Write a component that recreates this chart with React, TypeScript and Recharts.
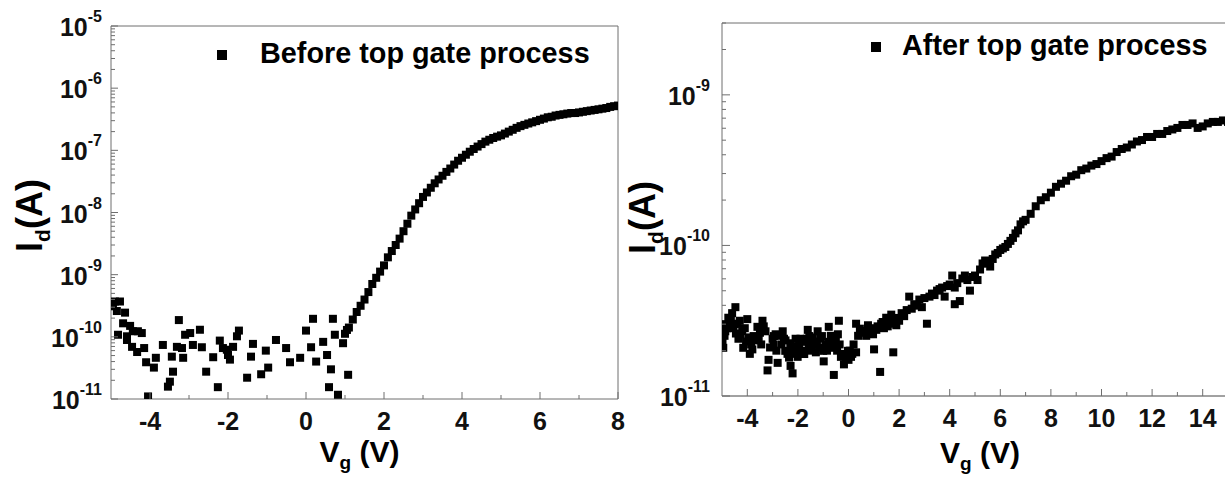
import React from "react";
import { ScatterChart, Scatter, XAxis, YAxis, ReferenceLine, Legend, Label } from "recharts";

const FONT = '"Liberation Sans", Arial, Helvetica, sans-serif';
const AXIS = "#6e6e6e";

// ---- before top gate: off-state noise
const beforeOffVg = [
  -4.95, -4.9, -4.85, -4.82, -4.77, -4.69, -4.64, -4.59, -4.59, -4.51, -4.46, -4.44, -4.33, -4.31, -4.21, -4.15,
  -4.1, -4.05, -3.9, -3.85, -3.67, -3.54, -3.49, -3.44, -3.41, -3.31, -3.26, -3.18, -3.15, -3.1, -2.97, -2.9,
  -2.72, -2.67, -2.56, -2.38, -2.26, -2.21, -2.13, -2.03, -2.0, -1.95, -1.87, -1.77, -1.72, -1.51, -1.41, -1.36,
  -1.15, -1.03, -0.97, -0.77, -0.51, -0.41, -0.15, 0.0, 0.13, 0.18, 0.26, 0.44, 0.54, 0.59, 0.64, 0.69, 0.74,
  0.82, 0.95, 1.05, 1.08,
];
const beforeOffId = [
  3.1e-10, 3.7e-10, 2.6e-10, 1.08e-10, 3.7e-10, 1.65e-10, 2.45e-10, 1.02e-10, 8.9e-11, 1.5e-10, 6.9e-11, 1.23e-10, 5.7e-11, 1.23e-10, 1.15e-10, 6.6e-11,
  3.9e-11, 1.1e-11, 3.2e-11, 4.6e-11, 7.4e-11, 1.58e-11, 1.9e-11, 4.8e-11, 2.75e-11, 6.9e-11, 1.86e-10, 6.6e-11, 4.6e-11, 1.08e-10, 1.15e-10, 7.4e-11,
  1.3e-10, 6.8e-11, 2.75e-11, 4.7e-11, 1.55e-11, 8.7e-11, 6.6e-11, 6.2e-11, 5.1e-11, 4.3e-11, 6.9e-11, 1.02e-10, 1.26e-10, 2.2e-11, 4.8e-11, 7.7e-11,
  2.5e-11, 6.0e-11, 3.2e-11, 8.9e-11, 6.6e-11, 3.9e-11, 4.6e-11, 1.26e-10, 6.8e-11, 1.95e-10, 4.0e-11, 8.3e-11, 5.1e-11, 1.55e-11, 3.0e-11, 1.95e-10, 1.08e-10,
  1.17e-11, 7.9e-11, 1.29e-10, 2.45e-11,
];

// ---- before top gate: turn-on sweep
const beforeOnVg = [
  1.0, 1.1, 1.2, 1.3, 1.4, 1.5, 1.6, 1.7, 1.8, 1.9, 2.0, 2.1, 2.2, 2.3, 2.4, 2.5, 2.6, 2.7, 2.8, 2.9,
  3.0, 3.1, 3.2, 3.3, 3.4, 3.5, 3.6, 3.7, 3.8, 3.9, 4.0, 4.1, 4.2, 4.3, 4.4, 4.5, 4.6, 4.7, 4.8, 4.9,
  5.0, 5.1, 5.2, 5.3, 5.4, 5.5, 5.6, 5.7, 5.8, 5.9, 6.0, 6.1, 6.2, 6.3, 6.4, 6.5, 6.6, 6.7, 6.8, 6.9,
  7.0, 7.1, 7.2, 7.3, 7.4, 7.5, 7.6, 7.7, 7.8, 7.9, 8.0,
];
const beforeOnId = [
  1.12e-10, 1.41e-10, 1.9e-10, 2.51e-10, 3.16e-10, 3.98e-10, 5.25e-10, 7.08e-10, 8.91e-10, 1.12e-9,
  1.41e-9, 1.9e-9, 2.4e-9, 3.0e-9, 3.8e-9, 5.0e-9, 6.6e-9, 8.9e-9, 1.12e-8, 1.41e-8,
  1.78e-8, 2.1e-8, 2.5e-8, 2.95e-8, 3.4e-8, 3.9e-8, 4.5e-8, 5.1e-8, 5.9e-8, 6.8e-8,
  7.6e-8, 8.5e-8, 9.5e-8, 1.05e-7, 1.15e-7, 1.26e-7, 1.38e-7, 1.48e-7, 1.58e-7, 1.66e-7,
  1.74e-7, 1.86e-7, 2.0e-7, 2.14e-7, 2.3e-7, 2.45e-7, 2.57e-7, 2.7e-7, 2.82e-7, 2.95e-7,
  3.1e-7, 3.24e-7, 3.4e-7, 3.47e-7, 3.63e-7, 3.72e-7, 3.8e-7, 3.9e-7, 3.98e-7, 3.98e-7,
  4.07e-7, 4.17e-7, 4.27e-7, 4.37e-7, 4.47e-7, 4.57e-7, 4.68e-7, 4.79e-7, 5.0e-7, 5.13e-7, 5.25e-7,
];

// ---- after top gate: off-state noise (two overlapping scans)
const afterOffVg = [
  -4.95, -4.9, -4.87, -4.8, -4.75, -4.6, -4.55, -4.47, -4.4, -4.3, -4.28, -4.16, -4.1, -4.0, -3.96, -3.9,
  -3.8, -3.68, -3.6, -3.5, -3.4, -3.28, -3.2, -3.16, -3.0, -2.96, -2.88, -2.8, -2.7, -2.6, -2.5, -2.49,
  -2.41, -2.3, -2.29, -2.21, -2.21, -2.15, -2.09, -2.01, -1.95, -1.89, -1.8, -1.77, -1.65, -1.61, -1.57, -1.5,
  -1.41, -1.35, -1.29, -1.22, -1.1, -1.0, -0.98, -0.9, -0.8, -0.78, -0.7, -0.58, -0.58, -0.5, -0.42, -0.38,
  -0.3, -0.2, -0.18, -0.02, 0.0, 0.1, 0.15, 0.3, 0.3, 0.38, 0.5, 0.58, 0.7, 0.77, 0.85, 0.97,
  1.01, 1.1, 1.25, 1.29, 1.4, 1.49, 1.6, 1.69, 1.77, 1.8, 1.89,
];
const afterOffId = [
  2.09e-11, 2.51e-11, 2.69e-11, 2.82e-11, 3.31e-11, 3.55e-11, 2.82e-11, 3.89e-11, 3.02e-11, 3.16e-11, 2.57e-11, 2.09e-11, 2.82e-11, 3.24e-11, 2.45e-11, 1.905e-11,
  2.04e-11, 2.34e-11, 2.88e-11, 2.63e-11, 3.16e-11, 2.69e-11, 1.479e-11, 1.738e-11, 2.4e-11, 2.19e-11, 2.57e-11, 1.66e-11, 2.51e-11, 2.69e-11, 1.995e-11, 2.34e-11,
  1.905e-11, 2.24e-11, 1.585e-11, 2.14e-11, 1.413e-11, 1.905e-11, 2.4e-11, 1.82e-11, 2.19e-11, 1.995e-11, 1.995e-11, 2.29e-11, 2.4e-11, 2.75e-11, 2.09e-11, 2.29e-11,
  2.45e-11, 2.19e-11, 1.95e-11, 2.69e-11, 2.4e-11, 1.995e-11, 1.698e-11, 2.19e-11, 2.29e-11, 2.88e-11, 2.51e-11, 1.38e-11, 2.09e-11, 2.4e-11, 2.57e-11, 3.16e-11,
  1.82e-11, 1.905e-11, 1.622e-11, 1.995e-11, 1.738e-11, 1.82e-11, 1.905e-11, 1.95e-11, 3.02e-11, 2.51e-11, 2.63e-11, 2.69e-11, 2.51e-11, 2.95e-11, 2.82e-11, 2.57e-11,
  2.04e-11, 2.75e-11, 1.445e-11, 3.02e-11, 2.82e-11, 3.31e-11, 3.16e-11, 3.47e-11, 1.95e-11, 3.02e-11, 2.95e-11,
];
const afterOff2Vg = [
  -4.98, -4.85, -4.7, -4.65, -4.5, -4.45, -4.35, -4.2, -4.05, -3.85, -3.75, -3.55, -3.45, -3.35, -3.1,
  -2.95, -2.85, -2.65, -2.55, -2.35, -2.25, -2.05, -1.9, -1.75, -1.55, -1.45, -1.25, -1.15, -1.05, -0.85,
  -0.65, -0.45, -0.35, -0.1, 0.05, 0.2, 0.45, 0.65, 0.9, 1.15, 1.35, 1.55, 1.75, 1.95,
];
const afterOff2Id = [
  2.3e-11, 3.0e-11, 2.9e-11, 3.2e-11, 3.0e-11, 2.6e-11, 2.4e-11, 2.7e-11, 2.3e-11, 2.2e-11, 2.5e-11, 2.4e-11, 2.2e-11, 2.9e-11, 2.1e-11,
  2.5e-11, 2.0e-11, 2.2e-11, 2.4e-11, 1.8e-11, 2.0e-11, 2.1e-11, 2.4e-11, 1.9e-11, 2.5e-11, 2.0e-11, 2.3e-11, 2.1e-11, 2.5e-11, 2.0e-11,
  2.2e-11, 2.0e-11, 2.2e-11, 1.8e-11, 2.0e-11, 2.2e-11, 2.8e-11, 2.7e-11, 2.6e-11, 2.9e-11, 3.1e-11, 2.9e-11, 3.2e-11, 3.3e-11,
];

// ---- after top gate: turn-on sweep
const afterOnVg = [
  2.0, 2.1, 2.2, 2.3, 2.4, 2.5, 2.6, 2.7, 2.8, 2.9, 3.0, 3.1, 3.2, 3.3, 3.4, 3.5, 3.6, 3.7, 3.8, 3.9,
  4.0, 4.1, 4.2, 4.2, 4.3, 4.4, 4.5, 4.6, 4.7, 4.8, 4.9, 5.0, 5.1, 5.2, 5.3, 5.4, 5.5, 5.6, 5.7, 5.8,
  5.9, 6.0, 6.1, 6.2, 6.3, 6.4, 6.5, 6.6, 6.7, 6.8, 6.9, 7.0, 7.2, 7.4, 7.6, 7.8, 8.0, 8.2, 8.4, 8.6,
  8.8, 9.0, 9.2, 9.4, 9.6, 9.8, 10.0, 10.2, 10.4, 10.6, 10.8, 11.0, 11.2, 11.4, 11.6, 11.8, 12.0, 12.2, 12.4, 12.6,
  12.8, 13.0, 13.2, 13.4, 13.6, 13.8, 14.0, 14.2, 14.4, 14.6, 14.8, 15.0,
];
const afterOnId = [
  3.16e-11, 3.55e-11, 3.39e-11, 3.72e-11, 4.57e-11, 3.8e-11, 4.07e-11, 3.98e-11, 4.37e-11, 3.89e-11,
  4.47e-11, 3.02e-11, 4.57e-11, 4.79e-11, 4.68e-11, 5.01e-11, 5.13e-11, 5.25e-11, 4.57e-11, 5.37e-11,
  5.5e-11, 6.31e-11, 5.25e-11, 4.07e-11, 5.62e-11, 4.27e-11, 6.03e-11, 6.31e-11, 5.89e-11, 5.01e-11,
  6.17e-11, 6.31e-11, 5.89e-11, 6.92e-11, 7.59e-11, 7.94e-11, 7.59e-11, 7.24e-11, 8.13e-11, 8.71e-11,
  8.91e-11, 9.33e-11, 9.55e-11, 9.77e-11, 1.023e-10, 1.072e-10, 1.122e-10, 1.202e-10, 1.259e-10, 1.38e-10,
  1.445e-10, 1.479e-10, 1.622e-10, 1.82e-10, 1.995e-10, 2.09e-10, 2.24e-10, 2.45e-10, 2.57e-10, 2.69e-10,
  2.88e-10, 2.95e-10, 3.16e-10, 3.24e-10, 3.39e-10, 3.47e-10, 3.63e-10, 3.8e-10, 3.89e-10, 4.17e-10,
  4.37e-10, 4.47e-10, 4.68e-10, 4.9e-10, 5.01e-10, 5.25e-10, 5.25e-10, 5.5e-10, 5.5e-10, 5.75e-10,
  5.89e-10, 6.03e-10, 6.31e-10, 6.31e-10, 6.46e-10, 6.03e-10, 6.17e-10, 6.46e-10, 6.61e-10, 6.61e-10, 6.76e-10, 6.61e-10,
];

// axis ticks
const beforeDecades = [-11, -10, -9, -8, -7, -6];
const afterDecades = [-11, -10, -9];
const mantissas = [1, 2, 3, 4, 5, 6, 7, 8, 9];
const beforeXTicks = [-4, -3, -2, -1, 0, 1, 2, 3, 4, 5, 6, 7, 8];
const afterXTicks = [-4, -3, -2, -1, 0, 1, 2, 3, 4, 5, 6, 7, 8, 9, 10, 11, 12, 13, 14];

function logTicks(decades: number[], max: number) {
  const out: number[] = [];
  decades.forEach((d) => mantissas.forEach((m) => {
    const v = m * Math.pow(10, d);
    if (v <= max * 1.0001) out.push(v);
  }));
  if (!out.some((v) => Math.abs(v / max - 1) < 1e-6)) out.push(max);
  return out;
}

function pairs(vg: number[], id: number[]) {
  return vg.map((v, i) => ({ vg: v, id: id[i] }));
}

const beforeData = [...pairs(beforeOffVg, beforeOffId), ...pairs(beforeOnVg, beforeOnId)];
const afterData = [
  ...pairs(afterOffVg, afterOffId),
  ...pairs(afterOff2Vg, afterOff2Id),
  ...pairs(afterOnVg, afterOnId),
];

const SquareDot = (p: any) => (
  <rect x={p.cx - 4} y={p.cy - 4} width={8} height={8} fill="#000" />
);

function YTick(props: any) {
  const { x, y, payload, gap, majorLen } = props;
  const v = Number(payload.value);
  const lg = Math.log10(v);
  const exp = Math.round(lg);
  const major = Math.abs(lg - exp) < 1e-6;
  return (
    <g>
      <line x1={x} x2={x + (major ? majorLen : 4)} y1={y} y2={y} stroke={AXIS} strokeWidth={1} />
      {major && (
        <text x={x - gap} y={y + 10} textAnchor="end" fontFamily={FONT} fontWeight="bold" fontSize={25} fill="#111">
          10<tspan dy={-14} fontSize={16}>{String(exp)}</tspan>
        </text>
      )}
    </g>
  );
}

function XTick(props: any) {
  const { x, y, payload } = props;
  const v = Number(payload.value);
  const major = v % 2 === 0;
  return (
    <g>
      <line x1={x} x2={x} y1={y} y2={y - (major ? 7 : 4)} stroke={AXIS} strokeWidth={1} />
      {major && (
        <text x={x} y={y + 31} textAnchor="middle" fontFamily={FONT} fontWeight="bold" fontSize={25} fill="#111">
          {String(v)}
        </text>
      )}
    </g>
  );
}

function YTitle({ viewBox, dx, dy }: any) {
  const cx = viewBox.x + viewBox.width + dx;
  const cy = viewBox.y + viewBox.height / 2 + dy;
  return (
    <text x={cx} y={cy} transform={`rotate(-90 ${cx} ${cy})`} textAnchor="middle" fontFamily={FONT} fontWeight="bold" fontSize={36} fill="#000">
      I<tspan dy={8} fontSize={21}>d</tspan><tspan dy={-8}>(A)</tspan>
    </text>
  );
}

function XTitle({ viewBox, dx, dy }: any) {
  const cx = viewBox.x + viewBox.width / 2 + dx;
  const cy = viewBox.y + dy;
  return (
    <text x={cx} y={cy} textAnchor="middle" fontFamily={FONT} fontWeight="bold" fontSize={30} fill="#000">
      V<tspan dy={7} fontSize={19}>g</tspan><tspan dy={-7}>{" (V)"}</tspan>
    </text>
  );
}

function LegendBox({ label, gap }: { label: string; gap: number }) {
  return (
    <div style={{ display: "flex", alignItems: "center", fontFamily: FONT, fontWeight: 700, fontSize: 28.8, lineHeight: "28px", color: "#000", whiteSpace: "nowrap" }}>
      <span style={{ display: "inline-block", width: 10, height: 10, background: "#000", marginRight: gap, position: "relative", top: 2 }} />
      {label}
    </div>
  );
}

const YW = 60;
const XH = 60;

export default function App() {
  const beforeYTicks = logTicks(beforeDecades, 1e-5);
  const afterYTicks = logTicks(afterDecades, 3e-9);

  return (
    <div style={{ position: "absolute", left: 0, top: 0, width: 1225, height: 487, overflow: "hidden", background: "#fff" }}>
      <div style={{ position: "absolute", left: 0, top: 0 }}>
        <ScatterChart width={640} height={487} margin={{ top: 26, left: 111 - YW, right: 22, bottom: 88 - XH }}>
          <XAxis
            type="number"
            dataKey="vg"
            domain={[-5, 8]}
            allowDataOverflow
            ticks={beforeXTicks}
            interval={0}
            height={XH}
            tickSize={0}
            tickMargin={0}
            stroke={AXIS}
            tick={(p: any) => <XTick {...p} />}
          >
            <Label content={(p: any) => <XTitle viewBox={p.viewBox} dx={-5} dy={63} />} />
          </XAxis>
          <YAxis
            type="number"
            dataKey="id"
            scale="log"
            domain={[1e-11, 1e-5]}
            allowDataOverflow
            ticks={beforeYTicks}
            interval={0}
            width={YW}
            tickSize={0}
            tickMargin={0}
            stroke={AXIS}
            tick={(p: any) => <YTick {...p} gap={9} majorLen={7} />}
          >
            <Label content={(p: any) => <YTitle viewBox={p.viewBox} dx={-69} dy={3} />} />
          </YAxis>
          <ReferenceLine y={1e-5} stroke={AXIS} strokeWidth={1} />
          <ReferenceLine x={8} stroke={AXIS} strokeWidth={1} />
          <Legend
            layout="horizontal"
            verticalAlign="middle"
            align="center"
            wrapperStyle={{ left: 217, top: 39, width: 420, height: 30 }}
            content={() => <LegendBox label="Before top gate process" gap={33} />}
          />
          <Scatter name="Before top gate process" data={beforeData} shape={SquareDot} isAnimationActive={false} />
        </ScatterChart>
      </div>
      <div style={{ position: "absolute", left: 620, top: 0 }}>
        <ScatterChart width={620} height={487} margin={{ top: 23, left: 102 - YW, right: 12, bottom: 91 - XH }}>
          <XAxis
            type="number"
            dataKey="vg"
            domain={[-5, 15]}
            allowDataOverflow
            ticks={afterXTicks}
            interval={0}
            height={XH}
            tickSize={0}
            tickMargin={0}
            stroke="#444"
            tick={(p: any) => <XTick {...p} />}
          >
            <Label content={(p: any) => <XTitle viewBox={p.viewBox} dx={5} dy={67} />} />
          </XAxis>
          <YAxis
            type="number"
            dataKey="id"
            scale="log"
            domain={[1e-11, 3e-9]}
            allowDataOverflow
            ticks={afterYTicks}
            interval={0}
            width={YW}
            tickSize={0}
            tickMargin={0}
            stroke={AXIS}
            tick={(p: any) => <YTick {...p} gap={12} majorLen={8} />}
          >
            <Label content={(p: any) => <YTitle viewBox={p.viewBox} dx={-67} dy={8} />} />
          </YAxis>
          <ReferenceLine y={3e-9} stroke={AXIS} strokeWidth={1} />
          <Legend
            layout="horizontal"
            verticalAlign="middle"
            align="center"
            wrapperStyle={{ left: 251, top: 31, width: 380, height: 30 }}
            content={() => <LegendBox label="After top gate process" gap={21} />}
          />
          <Scatter name="After top gate process" data={afterData} shape={SquareDot} isAnimationActive={false} />
        </ScatterChart>
      </div>
    </div>
  );
}
